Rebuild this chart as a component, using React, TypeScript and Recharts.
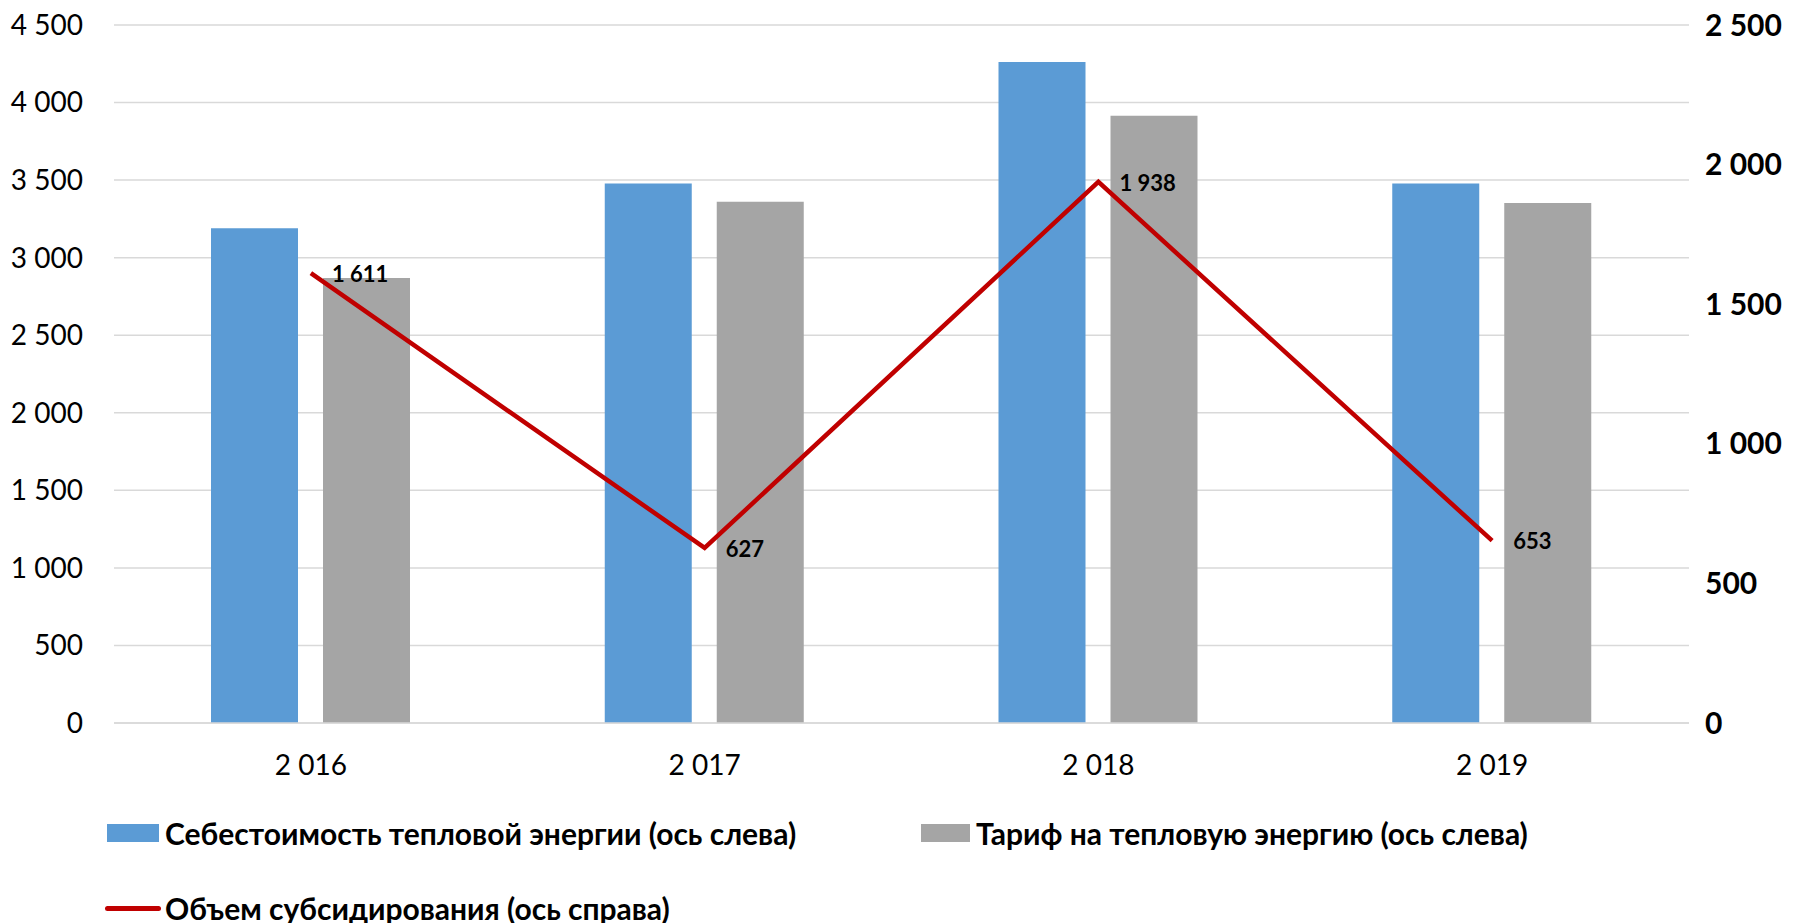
import { ComposedChart, Bar, Line, XAxis, YAxis, CartesianGrid, LabelList } from 'recharts';

const years = ['2 016', '2 017', '2 018', '2 019'];
const costValues = [3190, 3478, 4262, 3478];
const tariffValues = [2869, 3360, 3915, 3352];
const subsidyValues = [1611, 627, 1938, 653];

const leftTicks = [0, 500, 1000, 1500, 2000, 2500, 3000, 3500, 4000, 4500];
const rightTicks = [0, 500, 1000, 1500, 2000, 2500];

const costName = 'Себестоимость тепловой энергии (ось слева)';
const tariffName = 'Тариф на тепловую энергию (ось слева)';
const subsidyName = 'Объем субсидирования (ось справа)';

const BLUE = '#5B9BD5';
const GREY = '#A5A5A5';
const RED = '#C00000';
const FONT = 'Lato, "Open Sans", sans-serif';

const data = years.map((year, i) => ({
  year,
  cost: costValues[i],
  tariff: tariffValues[i],
  subsidy: subsidyValues[i],
}));

// thousands with a plain space, like "1 611"
const fmt = (v: number) => String(v).replace(/\B(?=(\d{3})+(?!\d))/g, ' ');

const SubsidyLabel = (props: any) => {
  const { x, y, value } = props;
  return (
    <text x={x + 21} y={y + 1} dy="0.35em" fontFamily={FONT} fontSize={22} fontWeight={700} fill="#000">
      {fmt(value)}
    </text>
  );
};

const legendText = { fontSize: 30, fontWeight: 700, color: '#000', whiteSpace: 'nowrap' as const };

export default function App() {
  return (
    <div style={{ position: 'absolute', left: 0, top: 0, width: 1798, height: 923, background: '#fff', fontFamily: FONT }}>
      <ComposedChart
        width={1798}
        height={923}
        data={data}
        margin={{ top: 25, right: 0, bottom: 0, left: 0 }}
        barSize={87}
        barGap={25}
      >
        <CartesianGrid vertical={false} stroke="#D9D9D9" strokeWidth={1.5} yAxisId="left" />
        <XAxis
          dataKey="year"
          height={200}
          axisLine={{ stroke: '#D9D9D9', strokeWidth: 1.5 }}
          tickLine={false}
          tickSize={0}
          tickMargin={32}
          tick={{ fontFamily: FONT, fontSize: 28, fill: '#000' }}
        />
        <YAxis
          yAxisId="left"
          width={114}
          domain={[0, 4500]}
          ticks={leftTicks}
          axisLine={false}
          tickLine={false}
          tickSize={0}
          tickMargin={31}
          tickFormatter={fmt}
          tick={{ fontFamily: FONT, fontSize: 28, fill: '#000' }}
        />
        <YAxis
          yAxisId="right"
          orientation="right"
          width={109}
          domain={[0, 2500]}
          ticks={rightTicks}
          axisLine={false}
          tickLine={false}
          tickSize={0}
          tickMargin={16}
          tickFormatter={fmt}
          tick={{ fontFamily: FONT, fontSize: 30, fontWeight: 700, fill: '#000' }}
        />
        <Bar yAxisId="left" dataKey="cost" name={costName} fill={BLUE} isAnimationActive={false} />
        <Bar yAxisId="left" dataKey="tariff" name={tariffName} fill={GREY} isAnimationActive={false} />
        <Line
          yAxisId="right"
          dataKey="subsidy"
          name={subsidyName}
          type="linear"
          stroke={RED}
          strokeWidth={4.5}
          dot={false}
          activeDot={false}
          isAnimationActive={false}
        >
          <LabelList dataKey="subsidy" content={SubsidyLabel} />
        </Line>
      </ComposedChart>

      {/* legend */}
      <div style={{ position: 'absolute', left: 107, top: 816, display: 'flex', alignItems: 'center', height: 34 }}>
        <div style={{ width: 52, height: 18, background: BLUE, marginRight: 6 }} />
        <span style={legendText}>{costName}</span>
      </div>
      <div style={{ position: 'absolute', left: 921, top: 816, display: 'flex', alignItems: 'center', height: 34 }}>
        <div style={{ width: 49, height: 18, background: GREY, marginRight: 6 }} />
        <span style={legendText}>{tariffName}</span>
      </div>
      <div style={{ position: 'absolute', left: 105, top: 891, display: 'flex', alignItems: 'center', height: 34 }}>
        <div style={{ width: 56, height: 5, background: RED, borderRadius: 3, marginRight: 4 }} />
        <span style={legendText}>{subsidyName}</span>
      </div>
    </div>
  );
}
